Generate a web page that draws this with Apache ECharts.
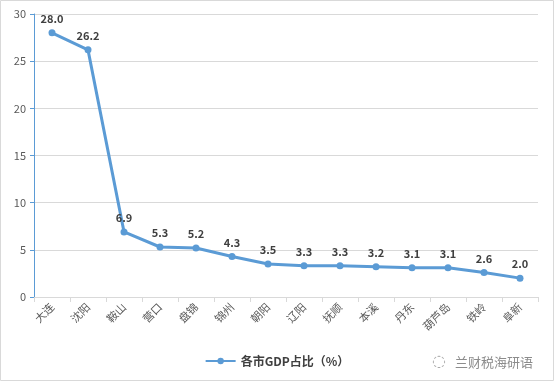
<!DOCTYPE html>
<html><head><meta charset="utf-8">
<script src="https://cdn.jsdelivr.net/npm/echarts@6/dist/echarts.min.js"></script>
<style>html,body{margin:0;padding:0;background:#fff}#c{width:554px;height:382px}</style>
</head><body><div id="c"></div>
<script>
var categories = ['大连','沈阳','鞍山','营口','盘锦','锦州','朝阳','辽阳','抚顺','本溪','丹东','葫芦岛','铁岭','阜新'];
var values = [28.0, 26.2, 6.9, 5.3, 5.2, 4.3, 3.5, 3.3, 3.3, 3.2, 3.1, 3.1, 2.6, 2.0];
var seriesName = '各市GDP占比（%）';
var yTicks = [0, 5, 10, 15, 20, 25, 30];

var chart = echarts.init(document.getElementById('c'));
chart.setOption({
  animation: false,
  textStyle: {fontFamily: '"Noto Sans CJK SC", "Liberation Sans", sans-serif'},
  grid: {left: 34, right: 16, top: 14, bottom: 85},
  graphic: [
    {type: 'rect', shape: {x: 0.5, y: 0.5, width: 553, height: 380}, style: {fill: 'none', stroke: '#d9d9d9', lineWidth: 1}},
    {type: 'text', left: 455, top: 356, style: {text: '兰财税海研语', fill: '#8c8c8c', font: '13px "Noto Sans CJK SC"'}},
    {type: 'text', left: 432, top: 354, style: {text: '◌', fill: '#aaa', font: '16px "DejaVu Sans"'}}
  ],
  legend: {
    bottom: 10, left: 'center',
    itemWidth: 30, itemHeight: 8,
    textStyle: {fontWeight: 'bold', fontSize: 12, color: '#404040'},
    data: [seriesName]
  },
  xAxis: {
    type: 'category', data: categories, boundaryGap: true,
    axisLine: {lineStyle: {color: '#d9d9d9'}},
    axisTick: {show: true, alignWithLabel: false, lineStyle: {color: '#d9d9d9'}, length: 5},
    axisLabel: {rotate: 45, color: '#595959', fontSize: 11, interval: 0, margin: 8}
  },
  yAxis: {
    type: 'value', min: 0, max: 30, interval: 5,
    axisLine: {show: true, lineStyle: {color: '#5b9bd5'}},
    axisTick: {show: true, length: 4, lineStyle: {color: '#5b9bd5'}},
    axisLabel: {color: '#595959', fontSize: 11, margin: 8},
    splitLine: {lineStyle: {color: '#d9d9d9'}}
  },
  series: [{
    name: seriesName, type: 'line', data: values,
    lineStyle: {color: '#5b9bd5', width: 3},
    itemStyle: {color: '#5b9bd5'},
    symbol: 'circle', symbolSize: 7,
    label: {show: true, position: 'top', fontWeight: 'bold', fontSize: 11, color: '#404040', distance: 5,
      formatter: function(p){ return p.value.toFixed(1); }}
  }]
});
</script></body></html>
